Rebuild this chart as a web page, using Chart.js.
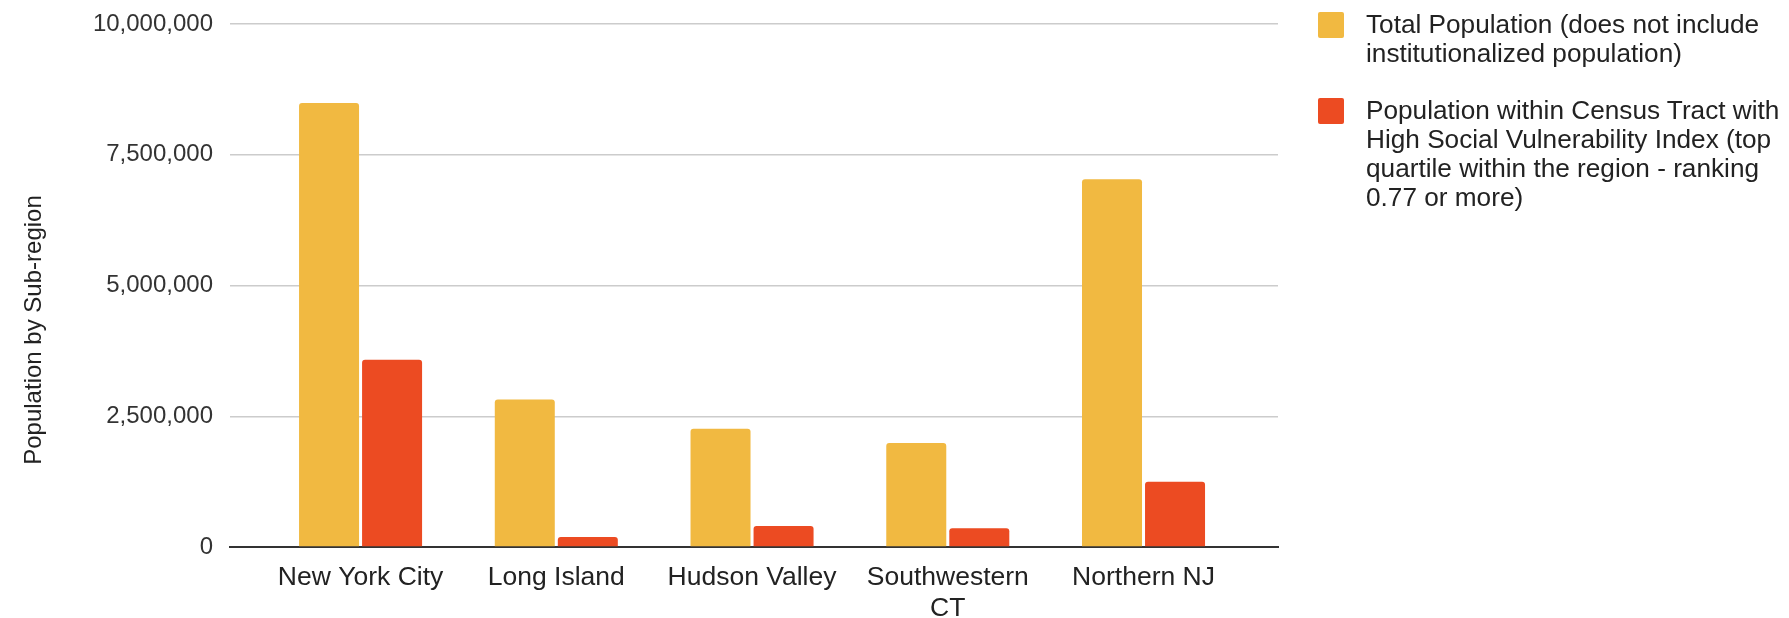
<!DOCTYPE html>
<html>
<head>
<meta charset="utf-8">
<script src="https://cdn.jsdelivr.net/npm/chart.js@4/dist/chart.umd.min.js"></script>
<style>
  html, body { margin: 0; padding: 0; background: #ffffff; }
  #wrap { position: relative; width: 1789px; height: 618px; overflow: hidden; }
  #c { position: absolute; left: 0; top: 0; }
  .legend-item { position: absolute; left: 1318px; font-family: "Liberation Sans", Arial, sans-serif; font-size: 26.2px; line-height: 29px; color: #222; white-space: nowrap; }
  .legend-box { position: absolute; left: 0; top: 2px; width: 26px; height: 26px; border-radius: 2px; }
  .legend-text { position: absolute; left: 48px; top: 0; }
</style>
</head>
<body>
<div id="wrap">
  <canvas id="c" width="1789" height="618"></canvas>
  <div id="legend"></div>
</div>
<script>
const categories = ["New York City", "Long Island", "Hudson Valley", "Southwestern CT", "Northern NJ"];
const categoryTickLines = [["New York City"], ["Long Island"], ["Hudson Valley"], ["Southwestern", "CT"], ["Northern NJ"]];
const seriesNames = [
  "Total Population (does not include institutionalized population)",
  "Population within Census Tract with High Social Vulnerability Index (top quartile within the region - ranking 0.77 or more)"
];
const legendLines = [
  ["Total Population (does not include", "institutionalized population)"],
  ["Population within Census Tract with", "High Social Vulnerability Index (top", "quartile within the region - ranking", "0.77 or more)"]
];
const totalPopulation = [8490000, 2820000, 2260000, 1990000, 7030000];
const highSviPopulation = [3580000, 190000, 400000, 360000, 1250000];
const yTickValues = [0, 2500000, 5000000, 7500000, 10000000];
const yAxisTitle = "Population by Sub-region";
const seriesColors = ["#F1B941", "#EC4B22"];

const FONT = '"Liberation Sans", Arial, sans-serif';

const yTitlePlugin = {
  id: 'yTitle',
  afterDraw(chart) {
    const ctx = chart.ctx;
    ctx.save();
    ctx.translate(34, 330);
    ctx.rotate(-Math.PI / 2);
    ctx.font = '24px ' + FONT;
    ctx.fillStyle = '#222';
    ctx.textAlign = 'center';
    ctx.textBaseline = 'middle';
    ctx.fillText(yAxisTitle, 0, 0);
    ctx.restore();
  }
};

const datasets = [totalPopulation, highSviPopulation].map((vals, si) => ({
  label: seriesNames[si],
  data: vals.map((v, i) => ({ x: i, y: v })),
  backgroundColor: seriesColors[si],
  borderRadius: { topLeft: 3, topRight: 3, bottomLeft: 0, bottomRight: 0 },
  borderSkipped: 'start',
  categoryPercentage: 0.644,
  barPercentage: 0.952
}));

new Chart(document.getElementById('c'), {
  type: 'bar',
  data: { datasets },
  options: {
    responsive: false,
    animation: false,
    devicePixelRatio: 1,
    layout: { padding: { left: 0, right: 511, top: 24, bottom: 0 } },
    plugins: { legend: { display: false }, tooltip: { enabled: false } },
    scales: {
      x: {
        type: 'linear',
        min: -0.667,
        max: 4.687,
        offset: false,
        afterBuildTicks(scale) { scale.ticks = categories.map((_, i) => ({ value: i })); },
        afterFit(scale) { scale.height = 71; scale.paddingLeft = 0; scale.paddingRight = 0; },
        ticks: {
          autoSkip: false,
          maxRotation: 0,
          padding: 15,
          color: '#222',
          font: { family: FONT, size: 26.5, lineHeight: 1.17 },
          callback(v) { return categoryTickLines[v] || ''; }
        },
        grid: { display: false, drawTicks: false },
        border: { display: true, color: '#333', width: 2 }
      },
      y: {
        min: 0,
        max: 10000000,
        afterBuildTicks(scale) { scale.ticks = yTickValues.map(v => ({ value: v })); },
        afterFit(scale) { scale.width = 230; scale.paddingTop = 0; scale.paddingBottom = 0; },
        ticks: {
          padding: 17,
          color: '#333',
          font: { family: FONT, size: 24 },
          callback(v) { return v.toLocaleString('en-US'); }
        },
        grid: { color: '#cccccc', lineWidth: 1.5, drawTicks: false },
        border: { display: false }
      }
    }
  },
  plugins: [yTitlePlugin]
});

const legend = document.getElementById('legend');
const legendTops = [10, 96];
legendLines.forEach((lines, i) => {
  const item = document.createElement('div');
  item.className = 'legend-item';
  item.style.top = legendTops[i] + 'px';
  const box = document.createElement('div');
  box.className = 'legend-box';
  box.style.background = seriesColors[i];
  const text = document.createElement('div');
  text.className = 'legend-text';
  text.innerHTML = lines.map(l => l.replace(/&/g, '&amp;').replace(/</g, '&lt;')).join('<br>');
  item.appendChild(box);
  item.appendChild(text);
  legend.appendChild(item);
});
</script>
</body>
</html>
